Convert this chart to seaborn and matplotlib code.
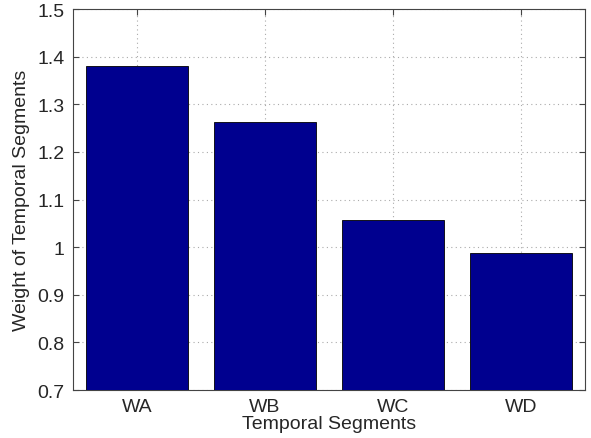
import matplotlib
matplotlib.use("Agg")
import matplotlib.pyplot as plt
import seaborn as sns
import pandas as pd

segments = ["WA", "WB", "WC", "WD"]
weights = [1.381, 1.263, 1.057, 0.988]
y_ticks = [0.7, 0.8, 0.9, 1.0, 1.1, 1.2, 1.3, 1.4, 1.5]
y_tick_labels = ["0.7", "0.8", "0.9", "1", "1.1", "1.2", "1.3", "1.4", "1.5"]

sns.set_style("white")
plt.rcParams["font.family"] = ["Liberation Sans", "DejaVu Sans"]

df = pd.DataFrame({"segment": segments, "weight": weights})

fig = plt.figure(figsize=(5.91, 4.39), dpi=100)
ax = fig.add_axes([0.1235, 0.1093, 0.8663, 0.8677])

sns.barplot(data=df, x="segment", y="weight", color="#00008F", saturation=1,
            width=0.8, edgecolor="black", linewidth=0.6, ax=ax, zorder=3)

ax.set_xlim(-0.5, 3.5)
ax.set_ylim(0.7, 1.5)
ax.set_yticks(y_ticks)
ax.set_yticklabels(y_tick_labels)
ax.set_xlabel("Temporal Segments", fontsize=14, labelpad=0)
ax.set_ylabel("Weight of Temporal Segments", fontsize=14, labelpad=5)
ax.tick_params(axis="both", labelsize=14, direction="in", length=4, color="#444444",
               top=True, right=True, bottom=True, left=True, pad=6)
ax.grid(True, linestyle=(0, (1, 3)), color="#aaaaaa", linewidth=0.8, zorder=0)
ax.set_axisbelow(True)
for s in ax.spines.values():
    s.set_color("#444444")
    s.set_linewidth(0.8)

fig.savefig("out.png", dpi=100)
